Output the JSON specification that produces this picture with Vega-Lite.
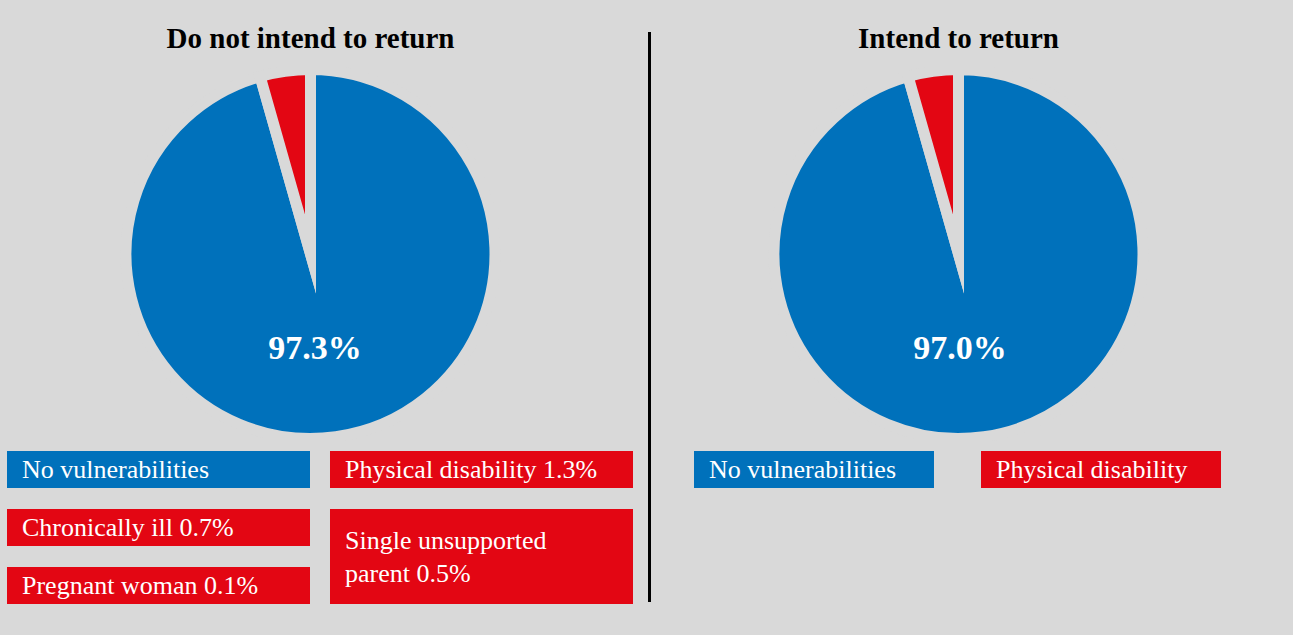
{
  "$schema": "https://vega.github.io/schema/vega-lite/v6.json",
  "background": "#d9d9d9",
  "padding": {"left": 7, "top": 25, "right": 70, "bottom": 20},
  "config": {
    "view": {"stroke": null},
    "font": "Liberation Serif",
    "title": {"font": "Liberation Serif", "fontSize": 29, "fontWeight": "bold", "color": "#000000", "offset": 13, "anchor": "middle"}
  },
  "datasets": {
    "pieLeft": [
      {"group": "No vulnerabilities", "share": 95.6, "label": "97.3%"},
      {"group": "Vulnerabilities", "share": 4.4}
    ],
    "pieRight": [
      {"group": "No vulnerabilities", "share": 95.6, "label": "97.0%"},
      {"group": "Vulnerabilities", "share": 4.4}
    ],
    "legendLeft": [
      {"label": "No vulnerabilities", "kind": "none", "col": "left", "r0": 0, "r1": 1},
      {"label": "Physical disability 1.3%", "kind": "vulnerability", "col": "right", "r0": 0, "r1": 1},
      {"label": "Chronically ill 0.7%", "kind": "vulnerability", "col": "left", "r0": 1, "r1": 2},
      {"label": "Pregnant woman 0.1%", "kind": "vulnerability", "col": "left", "r0": 2, "r1": 3},
      {"label": "Single unsupported\nparent 0.5%", "kind": "vulnerability", "col": "right", "r0": 1, "r1": 3}
    ],
    "legendRight": [
      {"label": "No vulnerabilities", "kind": "none", "col": "left", "r0": 0, "r1": 1},
      {"label": "Physical disability", "kind": "vulnerability", "col": "right", "r0": 0, "r1": 1}
    ]
  },
  "spacing": 10,
  "align": "none",
  "hconcat": [
    {
      "spacing": 0,
      "align": "none",
      "vconcat": [
        {
          "title": "Do not intend to return",
          "width": 607,
          "height": 374,
          "data": {"name": "pieLeft"},
          "layer": [
            {
              "mark": {"type": "arc", "clip": true, "outerRadius": 184.5, "stroke": "#d9d9d9", "strokeWidth": 11, "strokeJoin": "miter", "strokeMiterLimit": 20},
              "encoding": {
                "theta": {"field": "share", "type": "quantitative", "stack": true},
                "color": {"field": "group", "type": "nominal", "scale": {"domain": ["No vulnerabilities", "Vulnerabilities"], "range": ["#0071bb", "#e30613"]}, "legend": null},
                "order": {"field": "share", "sort": "descending"}
              }
            },
            {
              "transform": [{"filter": "isValid(datum.label)"}],
              "mark": {"type": "text", "dx": 4.5, "dy": 95, "fontSize": 34, "fontWeight": "bold", "color": "#ffffff", "baseline": "middle"},
              "encoding": {"text": {"field": "label", "type": "nominal"}}
            }
          ]
        },
        {
          "width": 626,
          "height": 174,
          "data": {"name": "legendLeft"},
          "layer": [
            {
              "mark": {"type": "rect", "yOffset": 10, "y2Offset": -11},
              "encoding": {
                "x": {"field": "col", "type": "nominal", "axis": null, "scale": {"paddingInner": 0.0619, "paddingOuter": 0}},
                "y": {"field": "r0", "type": "quantitative", "axis": null, "scale": {"domain": [0, 3], "reverse": true, "nice": false, "zero": false}},
                "y2": {"field": "r1"},
                "color": {"field": "kind", "type": "nominal", "scale": {"domain": ["none", "vulnerability"], "range": ["#0071bb", "#e30613"]}, "legend": null}
              }
            },
            {
              "transform": [{"filter": "datum.r1 - datum.r0 == 1"}],
              "mark": {"type": "text", "align": "left", "baseline": "middle", "dx": 15, "dy": 28.5, "fontSize": 26, "color": "#ffffff"},
              "encoding": {
                "x": {"field": "col", "type": "nominal", "bandPosition": 0, "axis": null},
                "y": {"field": "r0", "type": "quantitative", "axis": null},
                "text": {"field": "label", "type": "nominal"}
              }
            },
            {
              "transform": [{"filter": "datum.r1 - datum.r0 == 2"}],
              "mark": {"type": "text", "align": "left", "baseline": "middle", "dx": 15, "dy": 42, "fontSize": 26, "color": "#ffffff", "lineBreak": "\n", "lineHeight": 33},
              "encoding": {
                "x": {"field": "col", "type": "nominal", "bandPosition": 0, "axis": null},
                "y": {"field": "r0", "type": "quantitative", "axis": null},
                "text": {"field": "label", "type": "nominal"}
              }
            }
          ]
        }
      ]
    },
    {
      "width": 41,
      "height": 535,
      "data": {"values": [{}]},
      "mark": {"type": "rule", "color": "#000000", "strokeWidth": 3, "y2Offset": -35, "xOffset": -14},
      "encoding": {
        "y": {"datum": 0, "type": "quantitative", "scale": {"domain": [0, 1], "nice": false}, "axis": null},
        "y2": {"datum": 1}
      }
    },
    {
      "spacing": 0,
      "align": "none",
      "vconcat": [
        {
          "title": "Intend to return",
          "width": 529,
          "height": 374,
          "data": {"name": "pieRight"},
          "layer": [
            {
              "mark": {"type": "arc", "clip": true, "outerRadius": 184.5, "stroke": "#d9d9d9", "strokeWidth": 11, "strokeJoin": "miter", "strokeMiterLimit": 20},
              "encoding": {
                "theta": {"field": "share", "type": "quantitative", "stack": true},
                "color": {"field": "group", "type": "nominal", "scale": {"domain": ["No vulnerabilities", "Vulnerabilities"], "range": ["#0071bb", "#e30613"]}, "legend": null},
                "order": {"field": "share", "sort": "descending"}
              }
            },
            {
              "transform": [{"filter": "isValid(datum.label)"}],
              "mark": {"type": "text", "dx": 1.5, "dy": 95, "fontSize": 34, "fontWeight": "bold", "color": "#ffffff", "baseline": "middle"},
              "encoding": {"text": {"field": "label", "type": "nominal"}}
            }
          ]
        },
        {
          "width": 527,
          "height": 174,
          "data": {"name": "legendRight"},
          "layer": [
            {
              "mark": {"type": "rect", "yOffset": 10, "y2Offset": -11},
              "encoding": {
                "x": {"field": "col", "type": "nominal", "axis": null, "scale": {"paddingInner": 0.1638, "paddingOuter": 0}},
                "y": {"field": "r0", "type": "quantitative", "axis": null, "scale": {"domain": [0, 3], "reverse": true, "nice": false, "zero": false}},
                "y2": {"field": "r1"},
                "color": {"field": "kind", "type": "nominal", "scale": {"domain": ["none", "vulnerability"], "range": ["#0071bb", "#e30613"]}, "legend": null}
              }
            },
            {
              "mark": {"type": "text", "align": "left", "baseline": "middle", "dx": 15, "dy": 28.5, "fontSize": 26, "color": "#ffffff"},
              "encoding": {
                "x": {"field": "col", "type": "nominal", "bandPosition": 0, "axis": null},
                "y": {"field": "r0", "type": "quantitative", "axis": null},
                "text": {"field": "label", "type": "nominal"}
              }
            }
          ]
        }
      ]
    }
  ]
}
